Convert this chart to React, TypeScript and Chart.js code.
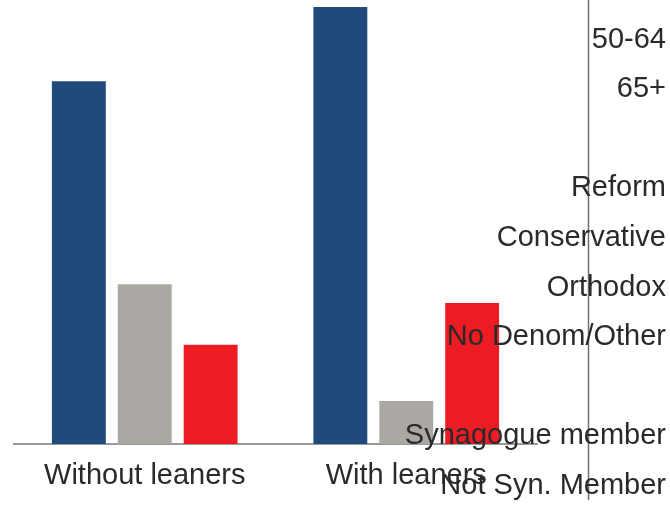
import React, { useEffect, useRef } from "react";
import { Chart, registerables } from "chart.js";

Chart.register(...registerables);

const categories = ["Without leaners", "With leaners"];
const seriesBlue = [58.1, 70];
const seriesGray = [25.6, 6.9];
const seriesRed = [15.9, 22.6];
const sideLabels = [
  "50-64",
  "65+",
  "",
  "Reform",
  "Conservative",
  "Orthodox",
  "No Denom/Other",
  "",
  "Synagogue member",
  "Not Syn. Member",
];

const FONT = '"Liberation Sans", Arial, Helvetica, sans-serif';
const TEXT_COLOR = "#2a2a2a";

const sidePlugin = {
  id: "sideLabels",
  afterDraw(chart: any) {
    const ctx = chart.ctx;
    ctx.save();
    ctx.strokeStyle = "#707070";
    ctx.lineWidth = 1.5;
    ctx.beginPath();
    ctx.moveTo(588.5, 0);
    ctx.lineTo(588.5, 500);
    ctx.stroke();
    ctx.fillStyle = TEXT_COLOR;
    ctx.font = `29px ${FONT}`;
    ctx.textAlign = "right";
    ctx.textBaseline = "middle";
    sideLabels.forEach((t, k) => {
      if (t) ctx.fillText(t, 666, 39.5 + k * 49.6);
    });
    ctx.restore();
  },
};

export default function App() {
  const ref = useRef<HTMLCanvasElement | null>(null);
  useEffect(() => {
    if (!ref.current) return;
    const chart = new Chart(ref.current, {
      type: "bar",
      data: {
        labels: categories,
        datasets: [
          { data: seriesBlue, backgroundColor: "#1f4a7b" },
          { data: seriesGray, backgroundColor: "#aba7a3" },
          { data: seriesRed, backgroundColor: "#ed1c24" },
        ],
      },
      options: {
        responsive: false,
        animation: false,
        layout: { padding: { left: 14, right: 133, top: 7, bottom: 0 } },
        datasets: {
          bar: { categoryPercentage: 0.756, barPercentage: 0.818 },
        },
        plugins: {
          legend: { display: false },
          tooltip: { enabled: false },
        },
        scales: {
          x: {
            grid: { display: false, drawTicks: false },
            border: { display: true, color: "#999999", width: 2 },
            ticks: {
              color: TEXT_COLOR,
              font: { family: FONT, size: 29 },
              padding: 15,
              maxRotation: 0,
            },
            afterFit(scale: any) {
              scale.height = 61;
            },
          },
          y: {
            display: false,
            min: 0,
            max: 70,
          },
        },
      },
      plugins: [sidePlugin],
    });
    return () => chart.destroy();
  }, []);
  return (
    <div style={{ position: "absolute", left: 0, top: 0, width: 670, height: 505 }}>
      <canvas ref={ref} width={670} height={505} style={{ display: "block" }} />
    </div>
  );
}
